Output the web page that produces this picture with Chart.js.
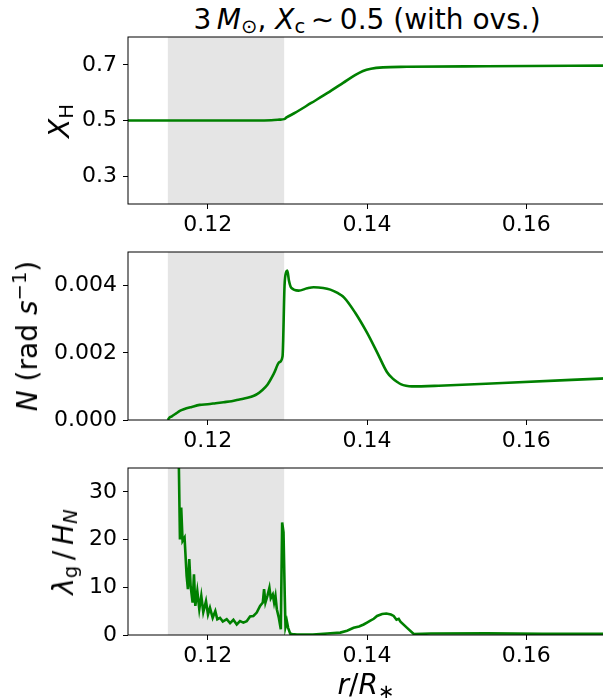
<!DOCTYPE html>
<html>
<head>
<meta charset="utf-8">
<script src="https://cdn.jsdelivr.net/npm/chart.js@4.4.1/dist/chart.umd.min.js"></script>
<style>
  html, body { margin: 0; padding: 0; overflow: hidden; background: #fff; }
  #page { position: relative; width: 603px; height: 698px; overflow: hidden;
          font-family: "DejaVu Sans", sans-serif; color: #000; }
  .panel { position: absolute; left: 0; }
  .lbl { position: absolute; white-space: nowrap; line-height: 1; font-size: 28px;
         transform: translate(-50%, -50%); }
  .rot { transform: translate(-50%, -50%) rotate(-90deg); }
  sub { font-size: 70%; vertical-align: -0.22em; line-height: 0; }
  sup { font-size: 70%; vertical-align: 0.55em; line-height: 0; }
</style>
</head>
<body>
<div id="page">
  <div class="lbl" style="left:367px; top:20px; font-size:28px">3&thinsp;<i>M</i><sub>⊙</sub>, <i>X</i><sub>c</sub>&thinsp;∼&thinsp;0.5 (with ovs.)</div>

  <div class="panel" style="top:35px"><canvas id="chartXH" width="606" height="214"></canvas></div>
  <div class="panel" style="top:250px"><canvas id="chartN" width="606" height="215"></canvas></div>
  <div class="panel" style="top:466px"><canvas id="chartLam" width="606" height="209"></canvas></div>

  <div class="lbl rot" style="left:60px; top:121px"><i>X</i><sub>H</sub></div>
  <div class="lbl rot" style="left:28px; top:336px"><i>N</i> (rad <i>s</i><sup>−1</sup>)</div>
  <div class="lbl rot" style="left:64px; top:552px"><i>λ</i><sub>g</sub>&thinsp;/&thinsp;<i>H</i><sub><i>N</i></sub></div>
  <div class="lbl" style="left:366px; top:685px"><i>r</i>/<i>R</i><sub>∗</sub></div>
</div>

<script>
/* =====================
   DATA
===================== */
const xTicks = [0.12, 0.14, 0.16];
const shadeFrom = 0.115;
const shadeTo = 0.1296;

// hydrogen abundance
const xhR = [0.110, 0.120, 0.126, 0.128, 0.129, 0.1296, 0.1299, 0.1310, 0.1330, 0.1350,
             0.1370, 0.1385, 0.1395, 0.1405, 0.1420, 0.1450, 0.1550, 0.1700];
const xhVal = [0.500, 0.500, 0.500, 0.501, 0.503, 0.505, 0.511, 0.528, 0.563, 0.598,
               0.635, 0.663, 0.678, 0.686, 0.691, 0.693, 0.695, 0.697];
const xhTicks = [0.3, 0.5, 0.7];

// Brunt-Vaisala frequency
const nR = [0.1150, 0.1152, 0.1155, 0.1160, 0.1165, 0.1170, 0.1180, 0.1190, 0.1200, 0.1210,
            0.1220, 0.1230, 0.1240, 0.1250, 0.1258, 0.1262, 0.1268, 0.1275, 0.1283, 0.1290,
            0.1294, 0.12965, 0.12985, 0.1300, 0.1302, 0.1305, 0.1314, 0.1325, 0.1333, 0.1345,
            0.1354, 0.1363, 0.1371, 0.1385, 0.1400, 0.1413, 0.1425, 0.1432, 0.1438, 0.1443,
            0.1449, 0.1456, 0.1490, 0.1570, 0.1700];
const nVal = [0.00000, 0.00007, 0.00011, 0.00019, 0.00027, 0.00032, 0.00039, 0.00045, 0.00047, 0.00050,
              0.00053, 0.00056, 0.00061, 0.00066, 0.00072, 0.00077, 0.00088, 0.00105, 0.00138, 0.00172,
              0.00190, 0.00400, 0.00440, 0.00445, 0.00415, 0.00393, 0.00385, 0.00392, 0.00395, 0.00393,
              0.00388, 0.00378, 0.00365, 0.00320, 0.00260, 0.00200, 0.00143, 0.00124, 0.00113, 0.00106,
              0.00102, 0.00100, 0.00102, 0.00110, 0.00124];
const nTicks = [0, 0.002, 0.004];

// lambda_g / H_N
const lamR = [0.1163, 0.11652, 0.11668, 0.11685, 0.1171, 0.11736, 0.11752, 0.11769, 0.11786, 0.11811,
              0.11828, 0.11845, 0.1187, 0.11895, 0.1192, 0.11945, 0.11979, 0.12004, 0.12029, 0.12063,
              0.12096, 0.12121, 0.12155, 0.1219, 0.12239, 0.12281, 0.12323, 0.12365, 0.12406, 0.12448,
              0.1249, 0.12532, 0.12574, 0.12616, 0.12658, 0.12692, 0.12708, 0.12725, 0.1275, 0.12775,
              0.12792, 0.12817, 0.12834, 0.12851, 0.12868, 0.12893, 0.12918, 0.12935, 0.12952, 0.12968,
              0.12977, 0.12994, 0.1301, 0.13036, 0.1306, 0.1312, 0.1332, 0.1350, 0.13665, 0.1375,
              0.13832, 0.1390, 0.13958, 0.1400, 0.14042, 0.14085, 0.14126, 0.1419, 0.14243, 0.1430,
              0.14335, 0.1437, 0.14398, 0.1442, 0.14503, 0.14587, 0.1480, 0.1550, 0.1620, 0.1700];
const lamVal = [45, 20.0, 26.7, 19.7, 20.4, 12.4, 9.6, 15.9, 10.3, 6.8,
                12.7, 6.1, 9.2, 5.4, 8.2, 4.8, 7.1, 4.3, 5.7, 3.6,
                5.0, 3.3, 3.6, 2.8, 3.3, 2.5, 3.2, 2.2, 2.9, 2.6,
                2.9, 3.9, 4.0, 4.7, 6.1, 6.8, 9.6, 6.8, 8.2, 9.9,
                7.7, 8.5, 6.8, 8.2, 5.4, 3.6, 1.2, 23.6, 21.5, 8.0,
                1.7, 2.9, 1.5, 0.3, 0.2, 0.1, 0.1, 0.3, 0.5, 0.9,
                1.5, 1.8, 2.2, 2.6, 3.0, 3.4, 4.0, 4.4, 4.5, 4.3,
                4.0, 3.2, 3.4, 2.8, 1.5, 0.2, 0.3, 0.35, 0.25, 0.25];
const lamTicks = [0, 10, 20, 30];

/* =====================
   HELPER
===================== */
const tickFont = { family: "DejaVu Sans", size: 22 };

// grey band + full box around the plot area
const framePlugin = {
  id: "frame",
  beforeDatasetsDraw(chart) {
    const { ctx, chartArea: a, scales: { x } } = chart;
    const x1 = x.getPixelForValue(shadeFrom);
    const x2 = x.getPixelForValue(shadeTo);
    ctx.save();
    ctx.fillStyle = "#e5e5e5";
    ctx.fillRect(x1, a.top, x2 - x1, a.bottom - a.top);
    ctx.restore();
  },
  afterDraw(chart) {
    const { ctx, chartArea: a } = chart;
    ctx.save();
    ctx.strokeStyle = "#000";
    ctx.lineWidth = 1;
    ctx.strokeRect(a.left, a.top, a.right - a.left, a.bottom - a.top);
    ctx.restore();
  }
};

function makePanel(id, xs, ys, yMin, yMax, yTicks, fmt, xAxisH, smooth) {
  return new Chart(document.getElementById(id), {
    type: "line",
    data: {
      datasets: [{
        data: xs.map((r, i) => ({ x: r, y: ys[i] })),
        borderColor: "#008000",
        borderWidth: 2.6,
        pointRadius: 0,
        tension: 0,
        cubicInterpolationMode: smooth ? "monotone" : "default"
      }]
    },
    options: {
      responsive: false,
      animation: false,
      events: [],
      layout: { padding: { top: 2, right: 0, left: 0, bottom: 0 } },
      plugins: { legend: { display: false }, tooltip: { enabled: false } },
      scales: {
        x: {
          type: "linear",
          min: 0.11,
          max: 0.17,
          afterBuildTicks: s => { s.ticks = xTicks.map(v => ({ value: v })); },
          afterFit: s => { s.height = xAxisH; s.paddingLeft = 0; s.paddingRight = 0; },
          ticks: { font: tickFont, color: "#000", padding: 3, maxRotation: 0,
                   callback: v => v.toFixed(2) },
          grid: { drawOnChartArea: false, drawTicks: true, tickLength: 5, color: "#000" },
          border: { display: false }
        },
        y: {
          min: yMin,
          max: yMax,
          afterBuildTicks: s => { s.ticks = yTicks.map(v => ({ value: v })); },
          afterFit: s => { s.width = 128; s.paddingTop = 0; s.paddingBottom = 0; },
          ticks: { font: tickFont, color: "#000", padding: 6, callback: fmt },
          grid: { drawOnChartArea: false, drawTicks: true, tickLength: 5, color: "#000" },
          border: { display: false }
        }
      }
    },
    plugins: [framePlugin]
  });
}

/* =====================
   PANELS
===================== */
makePanel("chartXH", xhR, xhVal, 0.2, 0.8, xhTicks, v => v.toFixed(1), 45, true);
makePanel("chartN", nR, nVal, 0, 0.005, nTicks, v => v.toFixed(3), 45, true);
makePanel("chartLam", lamR, lamVal, 0, 35, lamTicks, v => String(v), 40, false);
</script>
</body>
</html>
